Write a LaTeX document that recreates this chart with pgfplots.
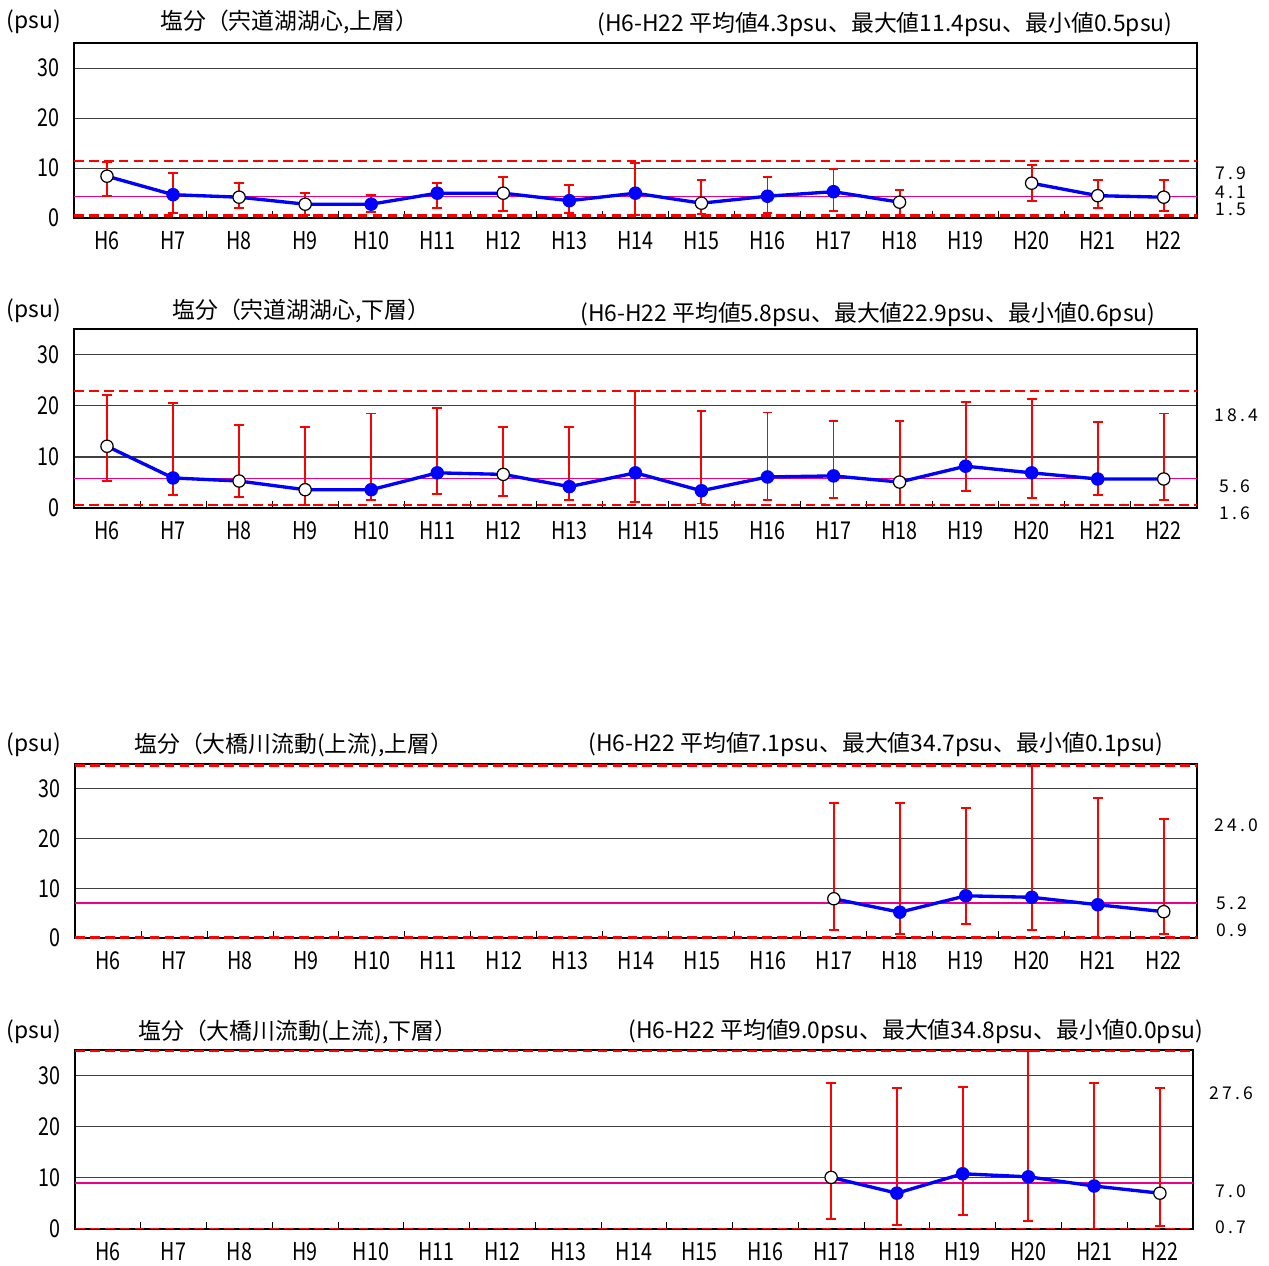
\documentclass[border=0pt]{standalone}
\usepackage{fontspec}
\setmainfont{Noto Sans CJK JP}
\newfontfamily\narrow{Noto Sans CJK JP}[FakeStretch=0.8]
\usepackage{pgfplots}
\usepackage{pgfplotstable}
\pgfplotsset{compat=1.18}

% H6..H22 at x = 0..16
\pgfplotstableread{
x mean max min t
0 8.4 11.2 4.5 o
1 4.7 9.1 1.0 f
2 4.2 7.1 2.0 o
3 2.8 5.0 0.6 o
4 2.8 4.6 1.2 f
5 5.0 7.1 2.0 f
6 5.0 8.2 1.5 o
7 3.5 6.6 1.1 f
8 5.0 11.0 0.6 f
9 3.0 7.7 0.8 o
10 4.4 8.3 1.1 f
11 5.3 9.8 1.5 f
12 3.2 5.7 0.5 o
13 nan nan nan f
14 7.0 10.6 3.4 o
15 4.5 7.7 2.0 o
16 4.2 7.7 1.5 o
}\shinjiUp
\pgfplotstableread{
x mean max min t
0 12.1 22.1 5.3 o
1 5.9 20.5 2.5 f
2 5.3 16.2 2.2 o
3 3.6 15.8 0.6 o
4 3.6 18.5 1.6 f
5 6.9 19.6 2.7 f
6 6.6 15.8 2.3 o
7 4.2 15.8 1.6 f
8 6.9 22.9 1.2 f
9 3.4 19.0 0.9 f
10 6.1 18.7 1.6 f
11 6.3 17.1 2.0 f
12 5.1 17.1 0.6 o
13 8.2 20.7 3.4 f
14 6.9 21.3 2.0 f
15 5.7 16.9 2.5 f
16 5.7 18.5 1.6 o
}\shinjiLow
\pgfplotstableread{
x mean max min t
11 7.9 27.1 1.7 o
12 5.2 27.1 0.9 f
13 8.5 26.2 2.9 f
14 8.2 34.7 1.7 f
15 6.7 28.2 0.1 f
16 5.3 24.0 0.9 o
}\ohashiUp
\pgfplotstableread{
x mean max min t
11 10.1 28.6 2.0 o
12 7.0 27.5 0.8 f
13 10.8 27.8 2.7 f
14 10.2 34.8 1.6 f
15 8.4 28.6 0.0 f
16 7.0 27.5 0.5 o
}\ohashiLow

\pgfplotsset{
  panel/.style={
    scale only axis, anchor=south west,
    xmin=-0.5, xmax=16.5, ymin=0, ymax=35,
    xtick={0,...,16},
    xticklabels={H6,H7,H8,H9,H10,H11,H12,H13,H14,H15,H16,H17,H18,H19,H20,H21,H22},
    minor xtick={0.5,1.5,...,15.5},
    ytick={0,10,20,30},
    major tick length=0pt, minor tick length=4pt,
    tick align=inside, xtick pos=bottom, ytick pos=left,
    ymajorgrids, major grid style={black!75, line width=0.6pt},
    axis line style={line width=1.3pt},
    tick style={black, line width=0.5pt},
    ticklabel style={font=\narrow\fontsize{14}{14}\selectfont},
    yticklabel style={xshift=-5pt},
    xticklabel style={yshift=-4pt},
    /pgf/number format/assume math mode=true,
  },
  ref/.style={magenta, line width=0.9pt, forget plot},
  lim/.style={red, line width=1.4pt, dash pattern=on 5.5pt off 3pt, forget plot},
  series/.style={blue, line width=1.9pt, mark=none, unbounded coords=jump,
    error bars/.cd, y dir=both, y explicit, error mark=|,
    error bar style={red, solid, line width=1.1pt},
    error mark options={red, solid, mark size=2.8pt, line width=1.1pt}},
  pts/.style={scatter, only marks, scatter src=explicit symbolic, mark size=3.5pt,
    scatter/classes={o={mark=*, draw=black, fill=white, line width=0.7pt},
                     f={mark=*, blue, line width=0.7pt}}},
}

\newcommand{\panel}[4]{% table, mean, max, min
  \addplot[ref] coordinates {(-0.5,#2) (16.5,#2)};
  \addplot[lim] coordinates {(-0.5,#3) (16.5,#3)};
  \addplot[lim] coordinates {(-0.5,#4) (16.5,#4)};
  \addplot[series] table[x=x, y=mean,
    y error plus expr=\thisrow{max}-\thisrow{mean},
    y error minus expr=\thisrow{mean}-\thisrow{min}] {#1};
  \addplot[pts] table[x=x, y=mean, meta=t] {#1};
}

\begin{document}
\begin{tikzpicture}[x=0.02cm, y=0.02cm]
\path[use as bounding box] (0,0) rectangle (1269,1266);

\begin{axis}[panel, at={(1.48cm,20.96cm)}, width=22.46cm, height=3.5cm]
\panel{\shinjiUp}{4.3}{11.4}{0.5}
\end{axis}
\begin{axis}[panel, at={(1.48cm,15.16cm)}, width=22.46cm, height=3.58cm]
\panel{\shinjiLow}{5.8}{22.9}{0.6}
\end{axis}
\begin{axis}[panel, at={(1.50cm,6.56cm)}, width=22.44cm, height=3.48cm]
\panel{\ohashiUp}{7.1}{34.7}{0.1}
\end{axis}
\begin{axis}[panel, at={(1.50cm,0.74cm)}, width=22.36cm, height=3.58cm]
\panel{\ohashiLow}{9.0}{34.8}{0.0}
\end{axis}

\begin{scope}[every node/.style={font=\fontsize{13}{15}\selectfont, inner sep=0pt}]
\node at (34,1244) {(psu)};
\node[anchor=west] at (160,1244) {塩分（宍道湖湖心,上層）};
\node[anchor=west] at (597,1241) {(H6-H22\ 平均値4.3psu、最大値11.4psu、最小値0.5psu)};
\node at (34,955) {(psu)};
\node[anchor=west] at (172,955) {塩分（宍道湖湖心,下層）};
\node[anchor=west] at (580,951) {(H6-H22\ 平均値5.8psu、最大値22.9psu、最小値0.6psu)};
\node at (34,521) {(psu)};
\node[anchor=west] at (134,521) {塩分（大橋川流動(上流),上層）};
\node[anchor=west] at (588,521) {(H6-H22\ 平均値7.1psu、最大値34.7psu、最小値0.1psu)};
\node at (34,234) {(psu)};
\node[anchor=west] at (138,234) {塩分（大橋川流動(上流),下層）};
\node[anchor=west] at (628,234) {(H6-H22\ 平均値9.0psu、最大値34.8psu、最小値0.0psu)};
\end{scope}

\begin{scope}[every node/.style={font=\fontsize{10}{11}\selectfont\addfontfeature{LetterSpace=18}, inner sep=0pt}]
\node at (1231,1093) {7.9};
\node at (1231,1074) {4.1};
\node at (1231,1057) {1.5};
\node at (1236,851) {18.4};
\node at (1235,780) {5.6};
\node at (1235,753) {1.6};
\node at (1236,441) {24.0};
\node at (1232,363) {5.2};
\node at (1232,336) {0.9};
\node at (1231,173) {27.6};
\node at (1231,75) {7.0};
\node at (1231,39) {0.7};
\end{scope}
\end{tikzpicture}
\end{document}
